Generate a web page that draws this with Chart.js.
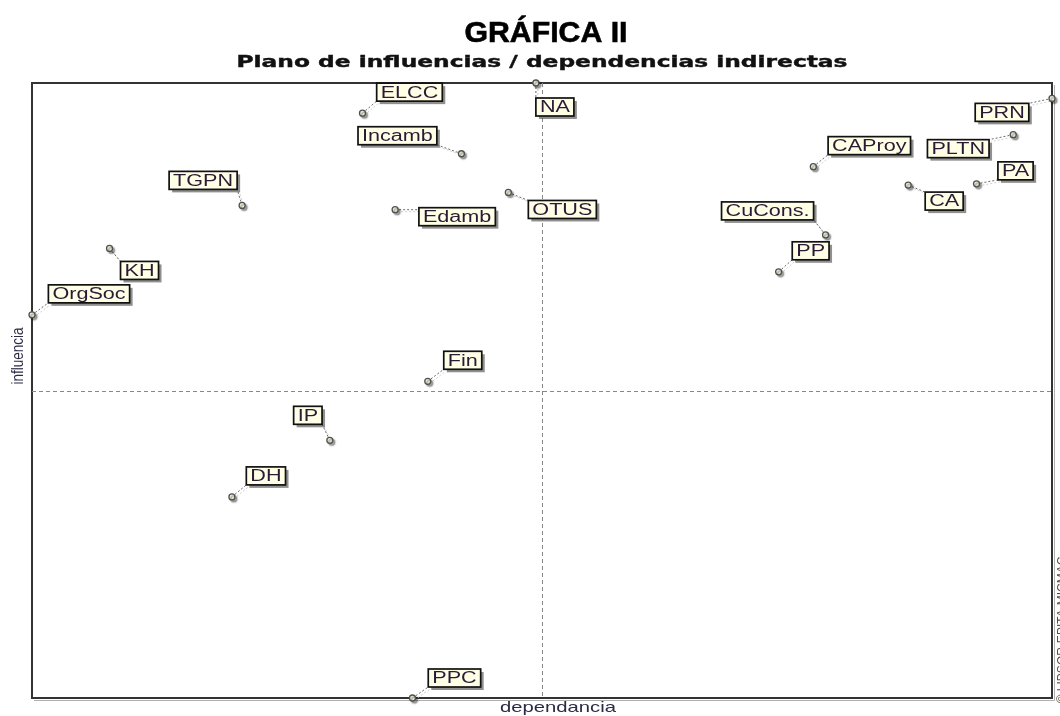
<!DOCTYPE html>
<html>
<head>
<meta charset="utf-8">
<script src="https://cdn.jsdelivr.net/npm/chart.js@4.4.1/dist/chart.umd.min.js"></script>
<style>
  html, body { margin: 0; padding: 0; background: #fff; }
  #wrap { width: 1060px; height: 716px; position: relative; }
</style>
</head>
<body>
<div id="wrap"><canvas id="myChart"></canvas></div>
<script>
// variables and their indirect dependence (x) / influence (y), in % of the range
const variables = ["ELCC", "NA", "PRN", "Incamb", "CAProy", "PLTN", "TGPN", "PA", "CA", "OTUS",
  "Edamb", "CuCons.", "KH", "PP", "OrgSoc", "Fin", "IP", "DH", "PPC"];
const dependencia = [32.4, 49.4, 100, 42.1, 76.6, 96.2, 20.6, 92.6, 85.9, 46.7,
  35.6, 77.8, 7.6, 73.2, 0, 38.8, 29.2, 19.6, 37.3];
const influencia = [95.1, 100, 97.5, 88.5, 86.4, 91.6, 80.1, 83.6, 83.4, 82.2,
  79.4, 75.3, 73.1, 69.3, 62.3, 51.5, 41.9, 32.7, 0];
const axisMin = 0;
const axisMax = 100;
const axisMid = 50;

// where each label box sits relative to its point (box centre, px)
const labelOffsets = [[47, -21], [19, 24], [-50, 14], [-64, -18], [56, -21], [-55, 14], [-39, -25],
  [39, -13], [36, 16], [54, 17], [62, 7], [-58, -24], [30, 22], [32, -21], [57, -21],
  [35, -21], [-22, -25], [34, -21], [42, -20]];

const LABEL_FONT = "16px 'Liberation Sans', Arial, sans-serif";
const STRETCH = 1.35;

function wideText(ctx, text, x, y, sx) {
  ctx.save();
  ctx.translate(x, y);
  ctx.scale(sx, 1);
  ctx.fillText(text, 0, 0);
  ctx.restore();
}

function fitText(ctx, text, cx, y, width, stroke) {
  const w = ctx.measureText(text).width;
  ctx.save();
  ctx.translate(cx, y);
  ctx.scale(width / w, 1);
  if (stroke) {
    ctx.strokeStyle = ctx.fillStyle;
    ctx.lineWidth = stroke;
    ctx.strokeText(text, 0, 0);
  }
  ctx.fillText(text, 0, 0);
  ctx.restore();
}

function labelBox(ctx, i, px, py) {
  ctx.font = LABEL_FONT;
  const w = ctx.measureText(variables[i]).width * STRETCH + 8;
  const h = 18;
  const cx = px + labelOffsets[i][0];
  const cy = py + labelOffsets[i][1];
  return { left: cx - w / 2, top: cy - h / 2, w: w, h: h, cx: cx, cy: cy };
}

const micmac = {
  id: "micmac",
  beforeDatasetsDraw(chart) {
    const { ctx, chartArea: a, scales: { x, y } } = chart;
    ctx.save();
    // frame
    ctx.strokeStyle = "#b0b0b0";
    ctx.lineWidth = 1;
    ctx.beginPath();
    ctx.moveTo(a.right + 2.5, a.top + 2);
    ctx.lineTo(a.right + 2.5, a.bottom + 2.5);
    ctx.lineTo(a.left + 2, a.bottom + 2.5);
    ctx.stroke();
    ctx.strokeStyle = "#333";
    ctx.lineWidth = 2;
    ctx.strokeRect(a.left, a.top, a.right - a.left, a.bottom - a.top);

    // quadrant lines
    ctx.strokeStyle = "#888";
    ctx.lineWidth = 1;
    ctx.setLineDash([4, 3]);
    const mx = Math.round(x.getPixelForValue(axisMid)) + 0.5;
    const my = Math.round(y.getPixelForValue(axisMid)) + 0.5;
    ctx.beginPath();
    ctx.moveTo(mx, a.top);
    ctx.lineTo(mx, a.bottom);
    ctx.moveTo(a.left, my);
    ctx.lineTo(a.right, my);
    ctx.stroke();

    // leader lines
    ctx.setLineDash([2, 2]);
    variables.forEach((v, i) => {
      const px = x.getPixelForValue(dependencia[i]);
      const py = y.getPixelForValue(influencia[i]);
      const b = labelBox(ctx, i, px, py);
      const qx = Math.min(Math.max(px, b.left), b.left + b.w);
      const qy = Math.min(Math.max(py, b.top), b.top + b.h);
      ctx.strokeStyle = "#cfcfcf";
      ctx.beginPath();
      ctx.moveTo(px + 2, py + 2);
      ctx.lineTo(qx + 2, qy + 2);
      ctx.stroke();
      ctx.strokeStyle = "#6a6a6a";
      ctx.beginPath();
      ctx.moveTo(px, py);
      ctx.lineTo(qx, qy);
      ctx.stroke();
    });
    ctx.restore();
  },
  beforeDatasetDraw(chart) {
    const ctx = chart.ctx;
    ctx.save();
    ctx.shadowColor = "rgba(0,0,0,0.35)";
    ctx.shadowOffsetX = 2;
    ctx.shadowOffsetY = 2;
    ctx.shadowBlur = 1.5;
  },
  afterDatasetDraw(chart) {
    chart.ctx.restore();
  },
  afterDatasetsDraw(chart) {
    const { ctx, scales: { x, y } } = chart;
    ctx.save();
    variables.forEach((v, i) => {
      const px = x.getPixelForValue(dependencia[i]);
      const py = y.getPixelForValue(influencia[i]);
      const b = labelBox(ctx, i, px, py);
      ctx.fillStyle = "rgba(70,70,70,0.6)";
      ctx.fillRect(b.left + 3, b.top + 3, b.w, b.h);
      ctx.fillStyle = "#ffffe6";
      ctx.fillRect(b.left, b.top, b.w, b.h);
      ctx.strokeStyle = "#111";
      ctx.lineWidth = 1.7;
      ctx.strokeRect(b.left, b.top, b.w, b.h);
      ctx.fillStyle = "#2a1a35";
      ctx.textAlign = "center";
      ctx.textBaseline = "middle";
      wideText(ctx, v, b.cx, b.cy + 1, STRETCH);
    });
    ctx.restore();
  },
  afterDraw(chart) {
    const { ctx } = chart;
    ctx.save();
    ctx.textAlign = "center";
    ctx.textBaseline = "alphabetic";
    ctx.fillStyle = "#000";
    ctx.font = "bold 29px 'Liberation Sans', Arial, sans-serif";
    fitText(ctx, "GRÁFICA II", 546, 42, 163, 0.6);
    ctx.fillStyle = "#111";
    ctx.font = "bold 16px 'DejaVu Sans', Verdana, sans-serif";
    fitText(ctx, "Plano de influencias / dependencias indirectas", 542, 67, 611, 0.4);

    // axis titles
    ctx.fillStyle = "#2b2b45";
    ctx.font = "15px 'Liberation Sans', Arial, sans-serif";
    wideText(ctx, "dependancia", 558, 712, STRETCH);
    ctx.save();
    ctx.translate(19, 356);
    ctx.rotate(-Math.PI / 2);
    ctx.scale(1, 1.2);
    ctx.font = "13.5px 'Liberation Sans', Arial, sans-serif";
    ctx.textBaseline = "middle";
    ctx.fillText("influencia", 0, 0);
    ctx.restore();

    // clipped copyright at the right edge
    ctx.save();
    ctx.translate(1063, 630);
    ctx.rotate(-Math.PI / 2);
    ctx.font = "12px 'Liberation Sans', Arial, sans-serif";
    ctx.textBaseline = "middle";
    ctx.fillStyle = "#5a4a3a";
    ctx.fillText("© LIPSOR-EPITA-MICMAC", 0, 0);
    ctx.restore();
    ctx.restore();
  }
};

const myChart = document.querySelector("#myChart");
const chart = new Chart(myChart, {
  type: "scatter",
  data: {
    labels: variables,
    datasets: [{
      data: variables.map((v, i) => ({ x: dependencia[i], y: influencia[i] })),
      pointRadius: 3,
      pointHoverRadius: 3,
      pointBackgroundColor: "#f2f2dc",
      pointBorderColor: "#505050",
      pointBorderWidth: 1.3,
      clip: false,
    }],
  },
  options: {
    responsive: true,
    maintainAspectRatio: false,
    animation: false,
    layout: { padding: { left: 32, right: 8, top: 83, bottom: 18 } },
    plugins: { legend: { display: false }, tooltip: { enabled: false } },
    scales: {
      x: { type: "linear", min: axisMin, max: axisMax, display: false },
      y: { type: "linear", min: axisMin, max: axisMax, display: false },
    },
  },
  plugins: [micmac],
});
</script>
</body>
</html>
